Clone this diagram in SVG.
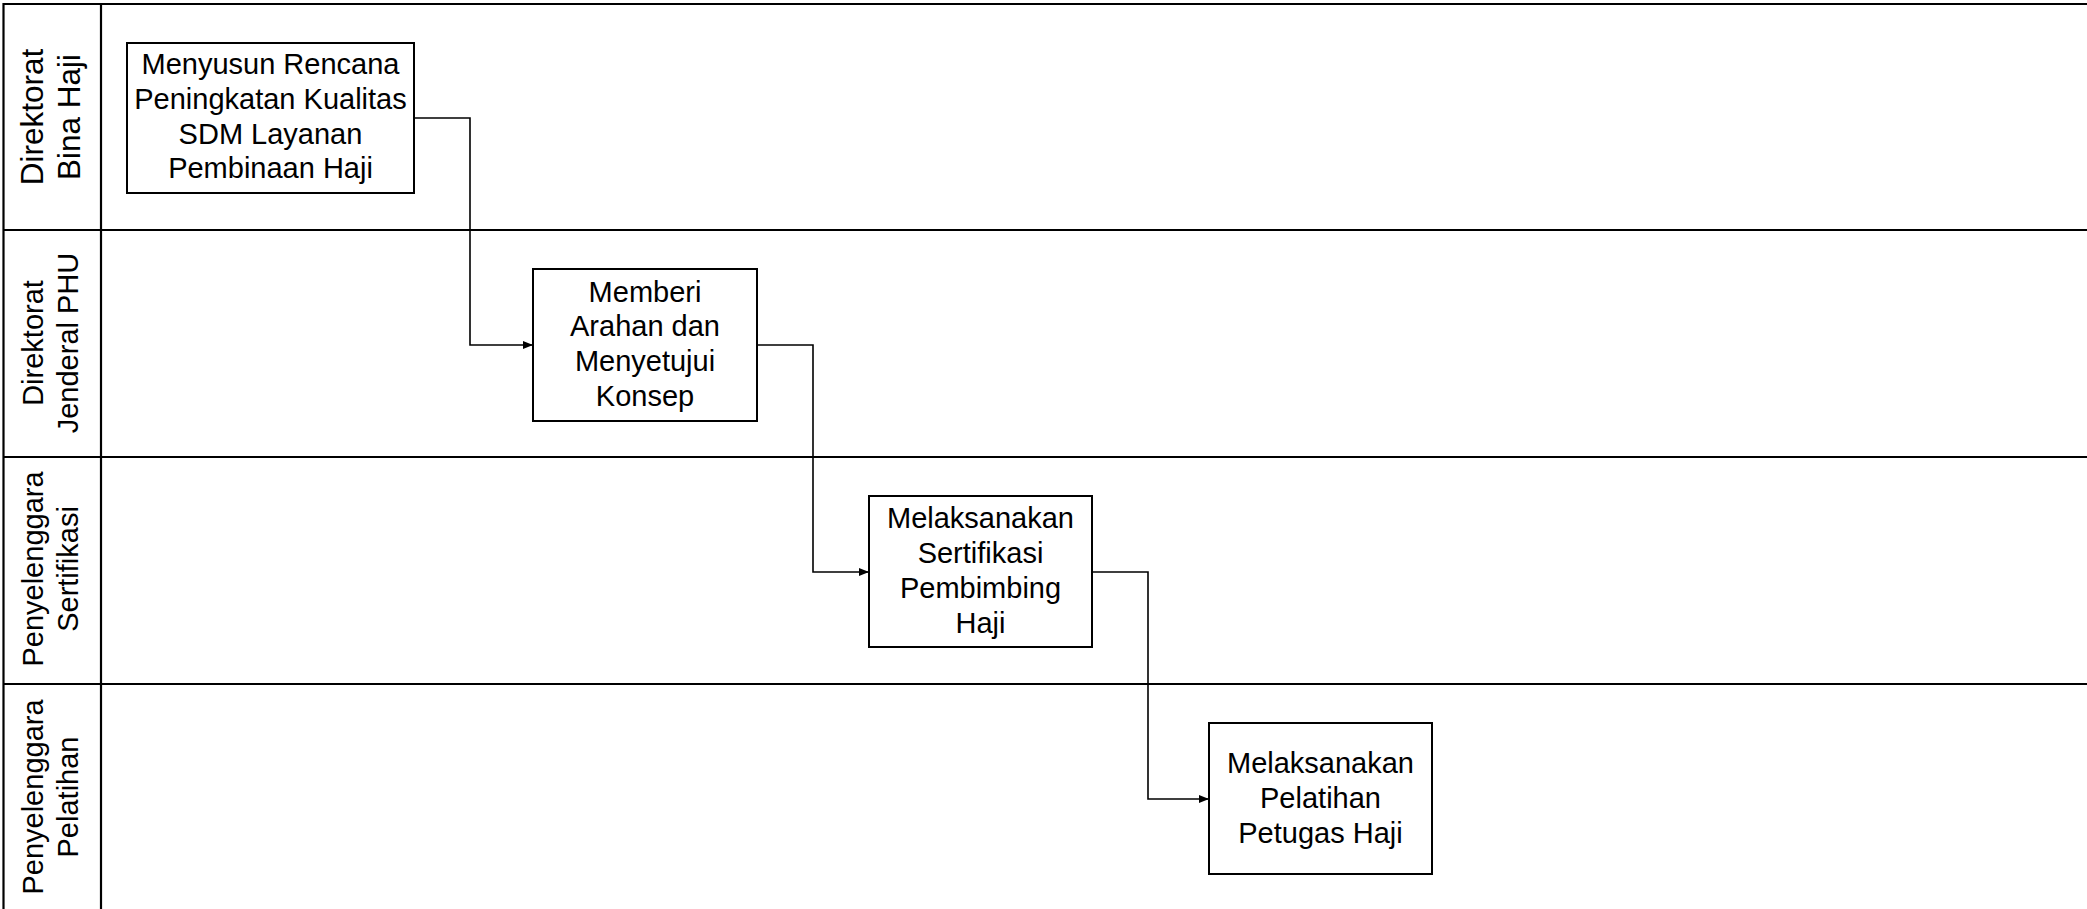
<svg xmlns="http://www.w3.org/2000/svg" width="2087" height="909" viewBox="0 0 2087 909">
<defs>
<marker id="arr" markerWidth="10" markerHeight="8" refX="10" refY="4" orient="auto" markerUnits="userSpaceOnUse">
<path d="M0,0 L10,4 L0,8 Z" fill="#000"/>
</marker>
<style>
.lane{stroke:#000;stroke-width:2.2;fill:none}
.box{fill:#fff;stroke:#000;stroke-width:2}
.t{font-family:"Liberation Sans",Arial,sans-serif;font-size:29px;fill:#000;text-anchor:middle}
.lt{font-family:"Liberation Sans",Arial,sans-serif;font-size:29px;fill:#000;text-anchor:middle}
.conn{fill:none;stroke:#000;stroke-width:1.6}
</style>
</defs>
<rect width="2087" height="909" fill="#fff"/>
<g id="lanes">
<line class="lane" x1="3" y1="4" x2="2087" y2="4"/>
<line class="lane" x1="3" y1="230" x2="2087" y2="230"/>
<line class="lane" x1="3" y1="457" x2="2087" y2="457"/>
<line class="lane" x1="3" y1="684" x2="2087" y2="684"/>
<line class="lane" x1="3.5" y1="3" x2="3.5" y2="909"/>
<line class="lane" x1="101" y1="4" x2="101" y2="909"/>
</g>
<g id="lane-bina-haji">
<text class="lt" style="font-size:31.5px" transform="translate(43,117) rotate(-90)"><tspan x="0" y="0">Direktorat</tspan><tspan x="0" y="37">Bina Haji</tspan></text>
</g>
<g id="lane-dirjen-phu">
<text class="lt" transform="translate(43,343) rotate(-90)"><tspan x="0" y="0">Direktorat</tspan><tspan x="0" y="35">Jenderal PHU</tspan></text>
</g>
<g id="lane-sertifikasi">
<text class="lt" transform="translate(43,569) rotate(-90)"><tspan x="0" y="0">Penyelenggara</tspan><tspan x="0" y="35">Sertifikasi</tspan></text>
</g>
<g id="lane-pelatihan">
<text class="lt" transform="translate(43,797) rotate(-90)"><tspan x="0" y="0">Penyelenggara</tspan><tspan x="0" y="35">Pelatihan</tspan></text>
</g>
<g id="connectors">
<polyline class="conn" points="414,118 470,118 470,345 533,345" marker-end="url(#arr)"/>
<polyline class="conn" points="757,345 813,345 813,572 869,572" marker-end="url(#arr)"/>
<polyline class="conn" points="1092,572 1148,572 1148,799 1209,799" marker-end="url(#arr)"/>
</g>
<g id="node1">
<rect class="box" x="127" y="43" width="287" height="150"/>
<text class="t"><tspan x="270.5" y="74">Menyusun Rencana</tspan><tspan x="270.5" y="109">Peningkatan Kualitas</tspan><tspan x="270.5" y="143.5">SDM Layanan</tspan><tspan x="270.5" y="178">Pembinaan Haji</tspan></text>
</g>
<g id="node2">
<rect class="box" x="533" y="269" width="224" height="152"/>
<text class="t"><tspan x="645" y="301.5">Memberi</tspan><tspan x="645" y="336">Arahan dan</tspan><tspan x="645" y="370.5">Menyetujui</tspan><tspan x="645" y="405.5">Konsep</tspan></text>
</g>
<g id="node3">
<rect class="box" x="869" y="496" width="223" height="151"/>
<text class="t"><tspan x="980.5" y="528">Melaksanakan</tspan><tspan x="980.5" y="562.5">Sertifikasi</tspan><tspan x="980.5" y="597.5">Pembimbing</tspan><tspan x="980.5" y="632.5">Haji</tspan></text>
</g>
<g id="node4">
<rect class="box" x="1209" y="723" width="223" height="151"/>
<text class="t"><tspan x="1320.5" y="772.5">Melaksanakan</tspan><tspan x="1320.5" y="807.5">Pelatihan</tspan><tspan x="1320.5" y="843">Petugas Haji</tspan></text>
</g>
</svg>
